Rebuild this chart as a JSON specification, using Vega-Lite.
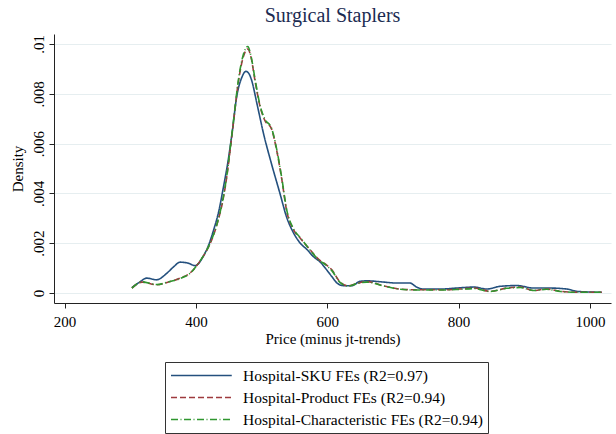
{
  "$schema": "https://vega.github.io/schema/vega-lite/v6.json",
  "width": 557,
  "height": 269,
  "autosize": {"type": "none"},
  "padding": {"left": 54, "top": 34, "right": 5, "bottom": 131},
  "background": "white",
  "title": {"text": "Surgical Staplers", "font": "Liberation Serif", "fontSize": 20, "fontWeight": "normal", "color": "#1b2b52", "anchor": "middle", "offset": 8},
  "data": {"values": [
    {"s": "Hospital-SKU FEs (R2=0.97)", "x": 302.6, "y": 0.00022},
    {"s": "Hospital-SKU FEs (R2=0.97)", "x": 315, "y": 0.00045},
    {"s": "Hospital-SKU FEs (R2=0.97)", "x": 325, "y": 0.0006},
    {"s": "Hospital-SKU FEs (R2=0.97)", "x": 340, "y": 0.00053},
    {"s": "Hospital-SKU FEs (R2=0.97)", "x": 356, "y": 0.0008},
    {"s": "Hospital-SKU FEs (R2=0.97)", "x": 366, "y": 0.00105},
    {"s": "Hospital-SKU FEs (R2=0.97)", "x": 376, "y": 0.00124},
    {"s": "Hospital-SKU FEs (R2=0.97)", "x": 388, "y": 0.0012},
    {"s": "Hospital-SKU FEs (R2=0.97)", "x": 399, "y": 0.0011},
    {"s": "Hospital-SKU FEs (R2=0.97)", "x": 411, "y": 0.00146},
    {"s": "Hospital-SKU FEs (R2=0.97)", "x": 419, "y": 0.0019},
    {"s": "Hospital-SKU FEs (R2=0.97)", "x": 427, "y": 0.00253},
    {"s": "Hospital-SKU FEs (R2=0.97)", "x": 435, "y": 0.0033},
    {"s": "Hospital-SKU FEs (R2=0.97)", "x": 442, "y": 0.00426},
    {"s": "Hospital-SKU FEs (R2=0.97)", "x": 449, "y": 0.0053},
    {"s": "Hospital-SKU FEs (R2=0.97)", "x": 455, "y": 0.0064},
    {"s": "Hospital-SKU FEs (R2=0.97)", "x": 462, "y": 0.00786},
    {"s": "Hospital-SKU FEs (R2=0.97)", "x": 470, "y": 0.00866},
    {"s": "Hospital-SKU FEs (R2=0.97)", "x": 476, "y": 0.0089},
    {"s": "Hospital-SKU FEs (R2=0.97)", "x": 481, "y": 0.0088},
    {"s": "Hospital-SKU FEs (R2=0.97)", "x": 485, "y": 0.00853},
    {"s": "Hospital-SKU FEs (R2=0.97)", "x": 493, "y": 0.0076},
    {"s": "Hospital-SKU FEs (R2=0.97)", "x": 503, "y": 0.0064},
    {"s": "Hospital-SKU FEs (R2=0.97)", "x": 515, "y": 0.0052},
    {"s": "Hospital-SKU FEs (R2=0.97)", "x": 528, "y": 0.004},
    {"s": "Hospital-SKU FEs (R2=0.97)", "x": 538, "y": 0.00306},
    {"s": "Hospital-SKU FEs (R2=0.97)", "x": 549, "y": 0.0024},
    {"s": "Hospital-SKU FEs (R2=0.97)", "x": 559, "y": 0.002},
    {"s": "Hospital-SKU FEs (R2=0.97)", "x": 569, "y": 0.00175},
    {"s": "Hospital-SKU FEs (R2=0.97)", "x": 579, "y": 0.00146},
    {"s": "Hospital-SKU FEs (R2=0.97)", "x": 589, "y": 0.00125},
    {"s": "Hospital-SKU FEs (R2=0.97)", "x": 600, "y": 0.0009},
    {"s": "Hospital-SKU FEs (R2=0.97)", "x": 607, "y": 0.00066},
    {"s": "Hospital-SKU FEs (R2=0.97)", "x": 615, "y": 0.0004},
    {"s": "Hospital-SKU FEs (R2=0.97)", "x": 623, "y": 0.0003},
    {"s": "Hospital-SKU FEs (R2=0.97)", "x": 637, "y": 0.00029},
    {"s": "Hospital-SKU FEs (R2=0.97)", "x": 650, "y": 0.00047},
    {"s": "Hospital-SKU FEs (R2=0.97)", "x": 660, "y": 0.00049},
    {"s": "Hospital-SKU FEs (R2=0.97)", "x": 686, "y": 0.00044},
    {"s": "Hospital-SKU FEs (R2=0.97)", "x": 706, "y": 0.0004},
    {"s": "Hospital-SKU FEs (R2=0.97)", "x": 726, "y": 0.0004},
    {"s": "Hospital-SKU FEs (R2=0.97)", "x": 736, "y": 0.00024},
    {"s": "Hospital-SKU FEs (R2=0.97)", "x": 747, "y": 0.00016},
    {"s": "Hospital-SKU FEs (R2=0.97)", "x": 772, "y": 0.00016},
    {"s": "Hospital-SKU FEs (R2=0.97)", "x": 797, "y": 0.0002},
    {"s": "Hospital-SKU FEs (R2=0.97)", "x": 823, "y": 0.00024},
    {"s": "Hospital-SKU FEs (R2=0.97)", "x": 843, "y": 0.00016},
    {"s": "Hospital-SKU FEs (R2=0.97)", "x": 863, "y": 0.00027},
    {"s": "Hospital-SKU FEs (R2=0.97)", "x": 889, "y": 0.0003},
    {"s": "Hospital-SKU FEs (R2=0.97)", "x": 914, "y": 0.0002},
    {"s": "Hospital-SKU FEs (R2=0.97)", "x": 939, "y": 0.0002},
    {"s": "Hospital-SKU FEs (R2=0.97)", "x": 965, "y": 0.00016},
    {"s": "Hospital-SKU FEs (R2=0.97)", "x": 980, "y": 0.00007},
    {"s": "Hospital-SKU FEs (R2=0.97)", "x": 1000, "y": 0.00004},
    {"s": "Hospital-SKU FEs (R2=0.97)", "x": 1018, "y": 0.00003},

    {"s": "Hospital-Product FEs (R2=0.94)", "x": 302.6, "y": 0.0002},
    {"s": "Hospital-Product FEs (R2=0.94)", "x": 318, "y": 0.00044},
    {"s": "Hospital-Product FEs (R2=0.94)", "x": 341, "y": 0.00033},
    {"s": "Hospital-Product FEs (R2=0.94)", "x": 356, "y": 0.00042},
    {"s": "Hospital-Product FEs (R2=0.94)", "x": 376, "y": 0.0006},
    {"s": "Hospital-Product FEs (R2=0.94)", "x": 391, "y": 0.0008},
    {"s": "Hospital-Product FEs (R2=0.94)", "x": 406, "y": 0.00127},
    {"s": "Hospital-Product FEs (R2=0.94)", "x": 414, "y": 0.0016},
    {"s": "Hospital-Product FEs (R2=0.94)", "x": 422, "y": 0.002},
    {"s": "Hospital-Product FEs (R2=0.94)", "x": 434, "y": 0.00293},
    {"s": "Hospital-Product FEs (R2=0.94)", "x": 441, "y": 0.0037},
    {"s": "Hospital-Product FEs (R2=0.94)", "x": 447, "y": 0.00466},
    {"s": "Hospital-Product FEs (R2=0.94)", "x": 452, "y": 0.0057},
    {"s": "Hospital-Product FEs (R2=0.94)", "x": 457, "y": 0.0068},
    {"s": "Hospital-Product FEs (R2=0.94)", "x": 465, "y": 0.00853},
    {"s": "Hospital-Product FEs (R2=0.94)", "x": 472, "y": 0.00946},
    {"s": "Hospital-Product FEs (R2=0.94)", "x": 479, "y": 0.0098},
    {"s": "Hospital-Product FEs (R2=0.94)", "x": 484, "y": 0.00946},
    {"s": "Hospital-Product FEs (R2=0.94)", "x": 490, "y": 0.00853},
    {"s": "Hospital-Product FEs (R2=0.94)", "x": 498, "y": 0.00746},
    {"s": "Hospital-Product FEs (R2=0.94)", "x": 505, "y": 0.00693},
    {"s": "Hospital-Product FEs (R2=0.94)", "x": 515, "y": 0.0066},
    {"s": "Hospital-Product FEs (R2=0.94)", "x": 523, "y": 0.00573},
    {"s": "Hospital-Product FEs (R2=0.94)", "x": 531, "y": 0.00453},
    {"s": "Hospital-Product FEs (R2=0.94)", "x": 538, "y": 0.00333},
    {"s": "Hospital-Product FEs (R2=0.94)", "x": 549, "y": 0.00253},
    {"s": "Hospital-Product FEs (R2=0.94)", "x": 559, "y": 0.0022},
    {"s": "Hospital-Product FEs (R2=0.94)", "x": 574, "y": 0.00173},
    {"s": "Hospital-Product FEs (R2=0.94)", "x": 585, "y": 0.0014},
    {"s": "Hospital-Product FEs (R2=0.94)", "x": 600, "y": 0.0011},
    {"s": "Hospital-Product FEs (R2=0.94)", "x": 607, "y": 0.00093},
    {"s": "Hospital-Product FEs (R2=0.94)", "x": 619, "y": 0.00046},
    {"s": "Hospital-Product FEs (R2=0.94)", "x": 632, "y": 0.00029},
    {"s": "Hospital-Product FEs (R2=0.94)", "x": 647, "y": 0.0004},
    {"s": "Hospital-Product FEs (R2=0.94)", "x": 660, "y": 0.00046},
    {"s": "Hospital-Product FEs (R2=0.94)", "x": 686, "y": 0.00029},
    {"s": "Hospital-Product FEs (R2=0.94)", "x": 711, "y": 0.00016},
    {"s": "Hospital-Product FEs (R2=0.94)", "x": 736, "y": 0.00013},
    {"s": "Hospital-Product FEs (R2=0.94)", "x": 772, "y": 0.00013},
    {"s": "Hospital-Product FEs (R2=0.94)", "x": 802, "y": 0.00016},
    {"s": "Hospital-Product FEs (R2=0.94)", "x": 823, "y": 0.0002},
    {"s": "Hospital-Product FEs (R2=0.94)", "x": 848, "y": 0.00007},
    {"s": "Hospital-Product FEs (R2=0.94)", "x": 873, "y": 0.0002},
    {"s": "Hospital-Product FEs (R2=0.94)", "x": 894, "y": 0.00024},
    {"s": "Hospital-Product FEs (R2=0.94)", "x": 914, "y": 0.0001},
    {"s": "Hospital-Product FEs (R2=0.94)", "x": 934, "y": 0.00016},
    {"s": "Hospital-Product FEs (R2=0.94)", "x": 955, "y": 0.00007},
    {"s": "Hospital-Product FEs (R2=0.94)", "x": 980, "y": 0.00003},
    {"s": "Hospital-Product FEs (R2=0.94)", "x": 1018, "y": 0.00003},

    {"s": "Hospital-Characteristic FEs (R2=0.94)", "x": 302.6, "y": 0.0002},
    {"s": "Hospital-Characteristic FEs (R2=0.94)", "x": 318, "y": 0.00045},
    {"s": "Hospital-Characteristic FEs (R2=0.94)", "x": 341, "y": 0.00034},
    {"s": "Hospital-Characteristic FEs (R2=0.94)", "x": 356, "y": 0.00043},
    {"s": "Hospital-Characteristic FEs (R2=0.94)", "x": 376, "y": 0.00058},
    {"s": "Hospital-Characteristic FEs (R2=0.94)", "x": 391, "y": 0.00079},
    {"s": "Hospital-Characteristic FEs (R2=0.94)", "x": 406, "y": 0.00128},
    {"s": "Hospital-Characteristic FEs (R2=0.94)", "x": 414, "y": 0.0016},
    {"s": "Hospital-Characteristic FEs (R2=0.94)", "x": 422, "y": 0.00202},
    {"s": "Hospital-Characteristic FEs (R2=0.94)", "x": 434, "y": 0.00295},
    {"s": "Hospital-Characteristic FEs (R2=0.94)", "x": 441, "y": 0.00375},
    {"s": "Hospital-Characteristic FEs (R2=0.94)", "x": 447, "y": 0.0047},
    {"s": "Hospital-Characteristic FEs (R2=0.94)", "x": 452, "y": 0.00575},
    {"s": "Hospital-Characteristic FEs (R2=0.94)", "x": 457, "y": 0.00685},
    {"s": "Hospital-Characteristic FEs (R2=0.94)", "x": 465, "y": 0.0086},
    {"s": "Hospital-Characteristic FEs (R2=0.94)", "x": 472, "y": 0.00955},
    {"s": "Hospital-Characteristic FEs (R2=0.94)", "x": 479, "y": 0.0099},
    {"s": "Hospital-Characteristic FEs (R2=0.94)", "x": 484, "y": 0.0095},
    {"s": "Hospital-Characteristic FEs (R2=0.94)", "x": 490, "y": 0.0086},
    {"s": "Hospital-Characteristic FEs (R2=0.94)", "x": 498, "y": 0.0075},
    {"s": "Hospital-Characteristic FEs (R2=0.94)", "x": 505, "y": 0.00698},
    {"s": "Hospital-Characteristic FEs (R2=0.94)", "x": 515, "y": 0.00663},
    {"s": "Hospital-Characteristic FEs (R2=0.94)", "x": 523, "y": 0.00578},
    {"s": "Hospital-Characteristic FEs (R2=0.94)", "x": 531, "y": 0.00458},
    {"s": "Hospital-Characteristic FEs (R2=0.94)", "x": 538, "y": 0.00338},
    {"s": "Hospital-Characteristic FEs (R2=0.94)", "x": 549, "y": 0.00256},
    {"s": "Hospital-Characteristic FEs (R2=0.94)", "x": 559, "y": 0.00222},
    {"s": "Hospital-Characteristic FEs (R2=0.94)", "x": 574, "y": 0.00172},
    {"s": "Hospital-Characteristic FEs (R2=0.94)", "x": 585, "y": 0.00138},
    {"s": "Hospital-Characteristic FEs (R2=0.94)", "x": 600, "y": 0.00108},
    {"s": "Hospital-Characteristic FEs (R2=0.94)", "x": 607, "y": 0.0009},
    {"s": "Hospital-Characteristic FEs (R2=0.94)", "x": 619, "y": 0.00044},
    {"s": "Hospital-Characteristic FEs (R2=0.94)", "x": 632, "y": 0.00028},
    {"s": "Hospital-Characteristic FEs (R2=0.94)", "x": 647, "y": 0.00039},
    {"s": "Hospital-Characteristic FEs (R2=0.94)", "x": 660, "y": 0.00044},
    {"s": "Hospital-Characteristic FEs (R2=0.94)", "x": 686, "y": 0.00028},
    {"s": "Hospital-Characteristic FEs (R2=0.94)", "x": 711, "y": 0.00015},
    {"s": "Hospital-Characteristic FEs (R2=0.94)", "x": 736, "y": 0.00012},
    {"s": "Hospital-Characteristic FEs (R2=0.94)", "x": 772, "y": 0.00012},
    {"s": "Hospital-Characteristic FEs (R2=0.94)", "x": 802, "y": 0.00015},
    {"s": "Hospital-Characteristic FEs (R2=0.94)", "x": 823, "y": 0.00018},
    {"s": "Hospital-Characteristic FEs (R2=0.94)", "x": 848, "y": 0.00006},
    {"s": "Hospital-Characteristic FEs (R2=0.94)", "x": 873, "y": 0.00019},
    {"s": "Hospital-Characteristic FEs (R2=0.94)", "x": 894, "y": 0.00022},
    {"s": "Hospital-Characteristic FEs (R2=0.94)", "x": 914, "y": 0.0001},
    {"s": "Hospital-Characteristic FEs (R2=0.94)", "x": 934, "y": 0.00015},
    {"s": "Hospital-Characteristic FEs (R2=0.94)", "x": 955, "y": 0.00006},
    {"s": "Hospital-Characteristic FEs (R2=0.94)", "x": 980, "y": 0.00003},
    {"s": "Hospital-Characteristic FEs (R2=0.94)", "x": 1018, "y": 0.00003}
  ]},
  "mark": {"type": "line", "strokeWidth": 1.6, "interpolate": "monotone"},
  "encoding": {
    "x": {
      "field": "x", "type": "quantitative",
      "scale": {"domain": [184, 1032], "nice": false, "zero": false},
      "axis": {"values": [200, 400, 600, 800, 1000], "format": "d", "title": "Price (minus jt-trends)", "grid": false, "labelPadding": 6, "titlePadding": 2}
    },
    "y": {
      "field": "y", "type": "quantitative",
      "scale": {"domain": [-0.0004, 0.0104], "nice": false, "zero": false},
      "axis": {
        "values": [0, 0.002, 0.004, 0.006, 0.008, 0.01],
        "labelExpr": "datum.value == 0 ? '0' : replace(format(datum.value, '.3~f'), '0.', '.')",
        "labelAngle": 270, "labelAlign": "center", "labelBaseline": "bottom", "labelPadding": 3,
        "title": "Density", "titlePadding": 6,
        "grid": true, "gridColor": "#e6eef0", "gridWidth": 1.2
      }
    },
    "color": {
      "field": "s", "type": "nominal",
      "scale": {
        "domain": ["Hospital-SKU FEs (R2=0.97)", "Hospital-Product FEs (R2=0.94)", "Hospital-Characteristic FEs (R2=0.94)"],
        "range": ["#24507e", "#9e3a3e", "#2f962f"]
      },
      "legend": {"title": null}
    },
    "strokeDash": {
      "field": "s", "type": "nominal",
      "scale": {
        "domain": ["Hospital-SKU FEs (R2=0.97)", "Hospital-Product FEs (R2=0.94)", "Hospital-Characteristic FEs (R2=0.94)"],
        "range": [[1, 0], [6, 3], [7, 2.5, 1, 2.5]]
      },
      "legend": {"title": null}
    }
  },
  "config": {
    "view": {"stroke": null},
    "font": "Liberation Serif",
    "axis": {
      "labelFont": "Liberation Serif", "labelFontSize": 15, "labelColor": "#000",
      "titleFont": "Liberation Serif", "titleFontSize": 15, "titleFontWeight": "normal", "titleColor": "#000",
      "domainColor": "#222", "tickColor": "#222", "tickSize": 5, "domainWidth": 1, "tickWidth": 1
    },
    "legend": {
      "orient": "none", "legendX": 111, "legendY": 328,
      "direction": "vertical",
      "strokeColor": "#333", "fillColor": "white", "padding": 5,
      "symbolType": "M-1,0L7.1,0", "symbolSize": 225, "symbolStrokeWidth": 1.6,
      "labelFont": "Liberation Serif", "labelFontSize": 15.5, "labelColor": "#000",
      "labelOffset": 56, "rowPadding": 5, "labelLimit": 400
    }
  }
}
